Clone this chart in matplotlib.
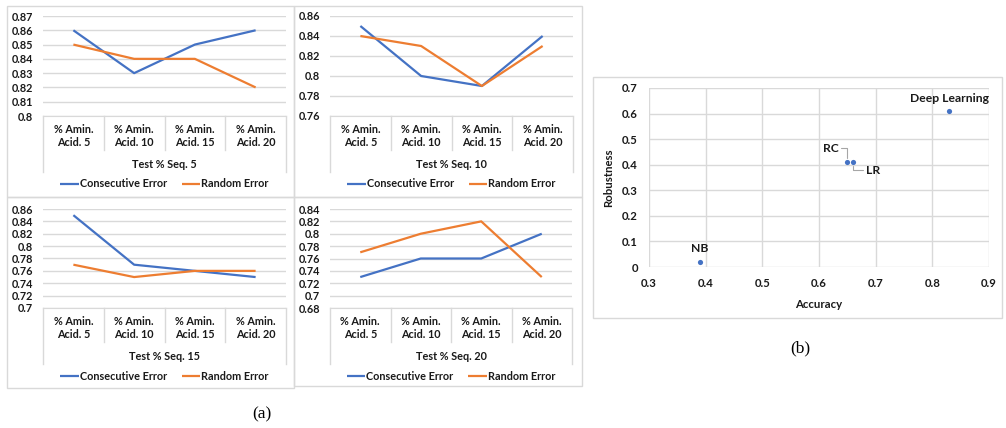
import matplotlib
matplotlib.use("Agg")
import matplotlib.pyplot as plt
from matplotlib.lines import Line2D
from matplotlib.patches import Rectangle

# ---------------- data ----------------
categories = ["% Amin.\nAcid. 5", "% Amin.\nAcid. 10", "% Amin.\nAcid. 15", "% Amin.\nAcid. 20"]
group_titles = ["Test % Seq. 5", "Test % Seq. 10", "Test % Seq. 15", "Test % Seq. 20"]
consecutive_seq5 = [0.86, 0.83, 0.85, 0.86]
random_seq5 = [0.85, 0.84, 0.84, 0.82]
consecutive_seq10 = [0.85, 0.80, 0.79, 0.84]
random_seq10 = [0.84, 0.83, 0.79, 0.83]
consecutive_seq15 = [0.85, 0.77, 0.76, 0.75]
random_seq15 = [0.77, 0.75, 0.76, 0.76]
consecutive_seq20 = [0.73, 0.76, 0.76, 0.80]
random_seq20 = [0.77, 0.80, 0.82, 0.73]
yticks_seq5 = [0.8, 0.81, 0.82, 0.83, 0.84, 0.85, 0.86, 0.87]
yticks_seq10 = [0.76, 0.78, 0.8, 0.82, 0.84, 0.86]
yticks_seq15 = [0.7, 0.72, 0.74, 0.76, 0.78, 0.8, 0.82, 0.84, 0.86]
yticks_seq20 = [0.68, 0.7, 0.72, 0.74, 0.76, 0.78, 0.8, 0.82, 0.84]

models = ["NB", "RC", "LR", "Deep Learning"]
accuracy = [0.39, 0.65, 0.66, 0.83]
robustness = [0.02, 0.41, 0.41, 0.61]
xticks_b = [0.3, 0.4, 0.5, 0.6, 0.7, 0.8, 0.9]
yticks_b = [0, 0.1, 0.2, 0.3, 0.4, 0.5, 0.6, 0.7]

# ---------------- style ----------------
W, H = 1006, 428
BLUE = "#4472C4"
ORANGE = "#ED7D31"
GRID = "#D9D9D9"
TXT = "#1a1a1a"
FONT = "Lato"
FS = 7.8
plt.rcParams["font.family"] = [FONT, "DejaVu Sans"]

fig = plt.figure(figsize=(W / 100, H / 100), dpi=100)


def fx(x):
    return x / W


def fy(y):
    return 1 - y / H


def box(x0, y0, x1, y1):
    fig.patches.append(Rectangle((fx(x0), fy(y1)), fx(x1) - fx(x0), fy(y0) - fy(y1),
                                 transform=fig.transFigure, fill=False,
                                 edgecolor=GRID, lw=1.0))


def fmt(v):
    s = f"{v:.2f}".rstrip("0").rstrip(".")
    return s if s else "0"


def line_panel(x0, x1, y0, y1, cons, rand, yticks, title):
    ax = fig.add_axes([fx(x0), fy(y1), fx(x1) - fx(x0), fy(y0) - fy(y1)])
    h = y1 - y0
    xs = list(range(len(categories)))
    ax.plot(xs, cons, color=BLUE, lw=1.6, label="Consecutive Error", solid_capstyle="butt")
    ax.plot(xs, rand, color=ORANGE, lw=1.6, label="Random Error", solid_capstyle="butt")
    ax.set_xlim(-0.5, len(categories) - 0.5)
    ax.set_ylim(yticks[0], yticks[-1])
    ax.set_yticks(yticks)
    ax.set_yticklabels([fmt(v) for v in yticks], fontsize=FS, fontweight="bold", color=TXT)
    ax.tick_params(axis="y", length=0, pad=7)
    ax.set_xticks([])
    for s in ["top", "left", "right"]:
        ax.spines[s].set_visible(False)
    ax.spines["bottom"].set_color(GRID)
    ax.grid(axis="y", color=GRID, lw=1.0)
    ax.set_axisbelow(True)
    tr = ax.get_xaxis_transform()
    # category labels
    for i, c in enumerate(categories):
        ax.text(i, -20 / h, c, transform=tr, ha="center", va="center",
                fontsize=FS, fontweight="bold", color=TXT, linespacing=1.25)
    # dividers
    for b in [i - 0.5 for i in range(1, len(categories))]:
        ax.add_line(Line2D([b, b], [0, -34 / h], transform=tr, color=GRID, lw=1.0, clip_on=False))
    for b in [-0.5, len(categories) - 0.5]:
        ax.add_line(Line2D([b, b], [0, -56 / h], transform=tr, color=GRID, lw=1.0, clip_on=False))
    ax.text((len(categories) - 1) / 2, -49 / h, title, transform=tr, ha="center", va="center",
            fontsize=FS, fontweight="bold", color=TXT)
    ax.legend(loc="center", bbox_to_anchor=(0.5, -68 / h), ncol=2, frameon=False,
              prop={"size": FS, "weight": "bold"}, handlelength=1.7, handletextpad=0.1,
              columnspacing=1.4, labelcolor=TXT)
    return ax


# panel boxes
box(7, 6, 294, 197)
box(294, 6, 582, 197)
box(7, 197, 294, 388)
box(294, 197, 582, 386)
box(593, 77, 1002, 318)

line_panel(43, 286, 16, 116, consecutive_seq5, random_seq5, yticks_seq5, group_titles[0])
line_panel(330, 573, 16, 116, consecutive_seq10, random_seq10, yticks_seq10, group_titles[1])
line_panel(43, 286, 209, 308, consecutive_seq15, random_seq15, yticks_seq15, group_titles[2])
line_panel(330, 572, 209, 308, consecutive_seq20, random_seq20, yticks_seq20, group_titles[3])

# scatter panel
FSB = 8.2
axb = fig.add_axes([fx(649), fy(267), fx(989) - fx(649), fy(88) - fy(267)])
axb.scatter(accuracy, robustness, s=14, color=BLUE, zorder=3, linewidths=0)
axb.set_xlim(xticks_b[0], xticks_b[-1])
axb.set_ylim(yticks_b[0], yticks_b[-1])
axb.set_xticks(xticks_b)
axb.set_yticks(yticks_b)
axb.set_xticklabels([fmt(v) for v in xticks_b], fontsize=FSB, fontweight="bold", color=TXT)
axb.set_yticklabels([fmt(v) for v in yticks_b], fontsize=FSB, fontweight="bold", color=TXT)
axb.tick_params(length=0, pad=8)
for s in axb.spines.values():
    s.set_visible(False)
axb.grid(True, color=GRID, lw=1.0)
axb.set_axisbelow(True)
axb.set_xlabel("Accuracy", fontsize=FSB, fontweight="bold", color=TXT, labelpad=7)
axb.set_ylabel("Robustness", fontsize=FSB, fontweight="bold", color=TXT, labelpad=6)

lead = dict(arrowstyle="-", color="#A6A6A6", lw=0.8, shrinkA=0, shrinkB=3)
for name, a, r in zip(models, accuracy, robustness):
    if name == "RC":
        axb.annotate(name, (a, r), xytext=(-9, 14), textcoords="offset pixels",
                     ha="right", va="center", fontsize=8.7, fontweight="bold", color=TXT,
                     arrowprops=dict(lead, connectionstyle="angle,angleA=0,angleB=90,rad=0"))
    elif name == "LR":
        axb.annotate(name, (a, r), xytext=(13, -8), textcoords="offset pixels",
                     ha="left", va="center", fontsize=8.7, fontweight="bold", color=TXT,
                     arrowprops=dict(lead, connectionstyle="angle,angleA=0,angleB=90,rad=0"))
    else:
        axb.annotate(name, (a, r), xytext=(0, 13), textcoords="offset pixels",
                     ha="center", va="center", fontsize=8.7, fontweight="bold", color=TXT)

fig.text(fx(262), fy(414), "(a)", ha="center", va="center", fontsize=12.5,
         family="Liberation Serif", color="black")
fig.text(fx(800), fy(348), "(b)", ha="center", va="center", fontsize=12.5,
         family="Liberation Serif", color="black")

fig.savefig("out.png", dpi=100, facecolor="white")
